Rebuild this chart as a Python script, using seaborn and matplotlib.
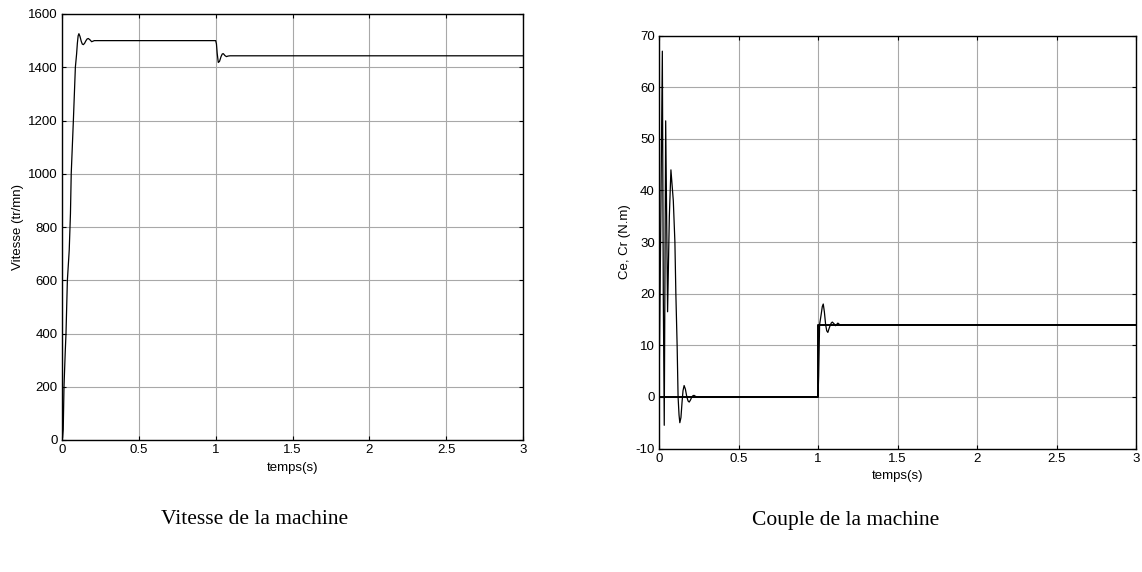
import matplotlib
matplotlib.use("Agg")
import matplotlib.pyplot as plt
import seaborn as sns
import pandas as pd

# Rotor speed response (tr/mn) vs time (s)
t_speed = [0.0, 0.004, 0.008, 0.013, 0.021, 0.026, 0.035, 0.047, 0.055, 0.060, 0.074,
           0.087, 0.095, 0.100, 0.105, 0.110, 0.117, 0.125, 0.132, 0.139, 0.147, 0.155,
           0.163, 0.171, 0.182, 0.193, 0.202, 0.210, 1.000,
           1.005, 1.010, 1.017, 1.025, 1.035, 1.043, 1.050, 1.060, 1.070, 1.080, 1.093, 3.0]
speed = [0, 10, 40, 200, 330, 400, 600, 713, 850, 1000, 1200,
         1400, 1450, 1490, 1518, 1526, 1516, 1498, 1487, 1485, 1490, 1499,
         1506, 1508, 1503, 1496, 1498, 1500, 1500,
         1488, 1452, 1418, 1422, 1440, 1450, 1451, 1444, 1440, 1442, 1443, 1443]

# Electromagnetic torque Ce (N.m) vs time (s)
t_ce = [0.0, 0.010, 0.021, 0.027, 0.033, 0.042, 0.054, 0.065, 0.075, 0.090, 0.100,
        0.106, 0.114, 0.120, 0.126, 0.131, 0.138, 0.145, 0.151, 0.158, 0.166, 0.175,
        0.183, 0.190, 0.198, 0.205, 0.212, 0.220, 0.230, 0.240,
        1.000, 1.004, 1.010, 1.020, 1.027, 1.033, 1.040, 1.048, 1.055, 1.062, 1.069,
        1.076, 1.083, 1.090, 1.100, 1.110, 1.125, 1.140, 1.160, 3.0]
ce = [0, 30, 67, 20, -5.5, 53.5, 16.5, 35, 44, 38, 30,
      20, 10, 0, -3.5, -5, -4, -1, 1.2, 2.2, 1.5, 0,
      -0.8, -1, -0.6, -0.1, 0.2, 0.3, 0.1, 0,
      0, 4, 14, 16, 17.5, 18, 16.5, 14, 12.8, 12.5, 13.2,
      13.8, 14.3, 14.5, 14.2, 13.8, 14.3, 13.9, 14, 14]

# Load torque Cr (N.m): step applied at t = 1 s
t_cr = [0.0, 1.0, 1.0, 3.0]
cr = [0, 0, 14, 14]

speed_ticks = list(range(0, 1601, 200))
torque_ticks = list(range(-10, 71, 10))
time_ticks = [0, 0.5, 1, 1.5, 2, 2.5, 3]
time_labels = ["0", "0.5", "1", "1.5", "2", "2.5", "3"]

sns.set_style("white")
plt.rcParams["font.family"] = ["Liberation Sans", "DejaVu Sans"]
plt.rcParams["text.color"] = "black"
plt.rcParams["axes.labelcolor"] = "black"

fig = plt.figure(figsize=(11.42, 5.72), dpi=100)
ax1 = fig.add_axes([62 / 1142, 1 - 440 / 572, (523 - 62) / 1142, (440 - 14) / 572])
ax2 = fig.add_axes([659 / 1142, 1 - 448.5 / 572, (1136 - 659) / 1142, (448.5 - 35.7) / 572])

df_speed = pd.DataFrame({"t": t_speed, "v": speed})
df_ce = pd.DataFrame({"t": t_ce, "c": ce})
df_cr = pd.DataFrame({"t": t_cr, "c": cr})

sns.lineplot(data=df_speed, x="t", y="v", ax=ax1, color="black", lw=0.9,
             sort=False, estimator=None)
sns.lineplot(data=df_cr, x="t", y="c", ax=ax2, color="black", lw=1.4,
             sort=False, estimator=None)
sns.lineplot(data=df_ce, x="t", y="c", ax=ax2, color="black", lw=0.9,
             sort=False, estimator=None)


def style_axes(ax, yticks, ylabel):
    ax.set_xlim(0, 3)
    ax.set_ylim(yticks[0], yticks[-1])
    ax.set_xticks(time_ticks)
    ax.set_xticklabels(time_labels)
    ax.set_yticks(yticks)
    ax.set_yticklabels([str(v) for v in yticks])
    ax.grid(True, color="#a8a8a8", lw=0.8, ls="-")
    ax.set_axisbelow(True)
    for s in ax.spines.values():
        s.set_color("black")
        s.set_linewidth(1.0)
        s.set_visible(True)
    ax.tick_params(direction="in", length=3, width=0.8, top=True, right=True,
                   bottom=True, left=True, labelsize=9.5, pad=3, colors="black")
    ax.set_xlabel("temps(s)", fontsize=9.5, labelpad=4, color="black")
    ax.set_ylabel(ylabel, fontsize=9.5, labelpad=3, color="black")


style_axes(ax1, speed_ticks, "Vitesse (tr/mn)")
style_axes(ax2, torque_ticks, "Ce, Cr (N.m)")

fig.text(255 / 1142, 1 - 520 / 572, "Vitesse de la machine", ha="center", va="center",
         fontsize=15.5, color="black", family=["Liberation Serif", "DejaVu Serif"])
fig.text(846 / 1142, 1 - 520 / 572, "Couple de la machine", ha="center", va="center",
         fontsize=15.5, color="black", family=["Liberation Serif", "DejaVu Serif"])

fig.savefig("out.png", dpi=100)
